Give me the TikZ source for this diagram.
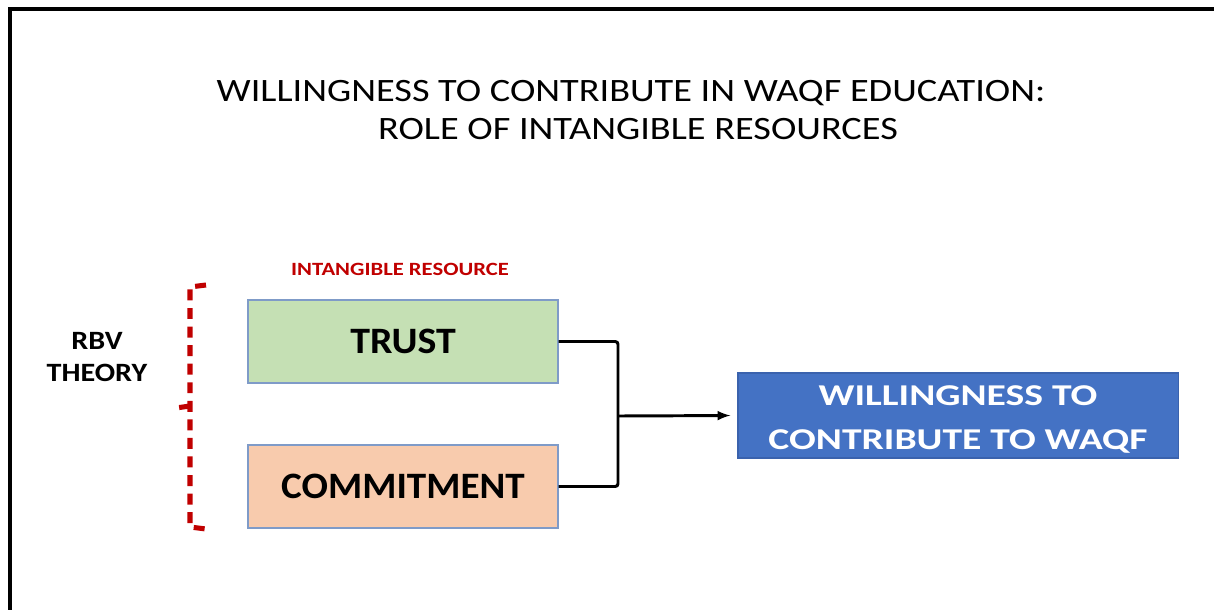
\documentclass[tikz,border=0pt]{standalone}
\usepackage{fontspec}
\setmainfont{Carlito}
\usepackage{graphicx}
\usepackage{tikz}
\usetikzlibrary{arrows}
\usetikzlibrary{shapes}
\usetikzlibrary{calc}

\definecolor{trustgreen}{HTML}{C5E0B4}
\definecolor{commitpeach}{HTML}{F8CBAD}
\definecolor{boxedge}{HTML}{7F9BC8}
\definecolor{willblue}{HTML}{4472C4}
\definecolor{willedge}{HTML}{3A62AD}
\definecolor{rbvred}{HTML}{C00000}

% horizontally widened text
\newcommand{\wx}[2]{\scalebox{#1}[1]{#2}}

\begin{document}
\begin{tikzpicture}[x=0.025cm, y=-0.025cm,
	resbox/.style={draw=boxedge, line width=0.8pt, minimum width=7.75cm, minimum height=2.075cm,
		font=\fontsize{26.5}{30}\selectfont\bfseries},
	link/.style={line width=2.1pt, rounded corners=2pt},
	brace/.style={draw=rbvred, line width=3.6pt, dash pattern=on 7.8pt off 5.4pt}]
\useasboundingbox (0,0) rectangle (1214,610);
% frame
\draw[line width=2.2pt] (10,610)--(10,9)--(1214,9);
% heading
\node[align=center, font=\fontsize{23.2}{27}\selectfont] (title) at (631,110)
	{\wx{1.175}{WILLINGNESS TO CONTRIBUTE IN WAQF EDUCATION:}\\\hspace*{0.35cm}\wx{1.175}{ROLE OF INTANGIBLE RESOURCES}};
\node[text=rbvred, font=\fontsize{13.3}{16}\selectfont\bfseries] (intang) at (400,269) {\wx{1.21}{INTANGIBLE RESOURCE}};
\node[align=center, font=\fontsize{18.8}{23}\selectfont\bfseries] (rbv) at (97,357) {\wx{1.14}{RBV}\\\wx{1.14}{THEORY}};
% resources
\node[resbox, fill=trustgreen] (trust) at (403,341.5) {\wx{1.07}{TRUST}};
\node[resbox, fill=commitpeach] (commit) at (403,486.5) {\wx{1.05}{COMMITMENT}};
\node[draw=willedge, line width=0.8pt, fill=willblue, text=white, align=center,
	minimum width=11cm, minimum height=2.125cm,
	font=\fontsize{21.5}{31}\selectfont\bfseries] (will) at (958,415.5)
	{\rule{0pt}{19.5pt}\wx{1.31}{WILLINGNESS TO}\\\wx{1.31}{CONTRIBUTE TO WAQF}};
% bracket
\draw[brace] (206,285)--(190,287)--(190,527)--(206,529);
\draw[brace] (190,406)--(176,408);
% links
\coordinate (j) at (618,416);
\draw[link] (trust.east) -| (j) |- (commit.east);
\draw[link, -latex, shorten >=5pt] (j) -- (will.west);
\end{tikzpicture}
\end{document}
